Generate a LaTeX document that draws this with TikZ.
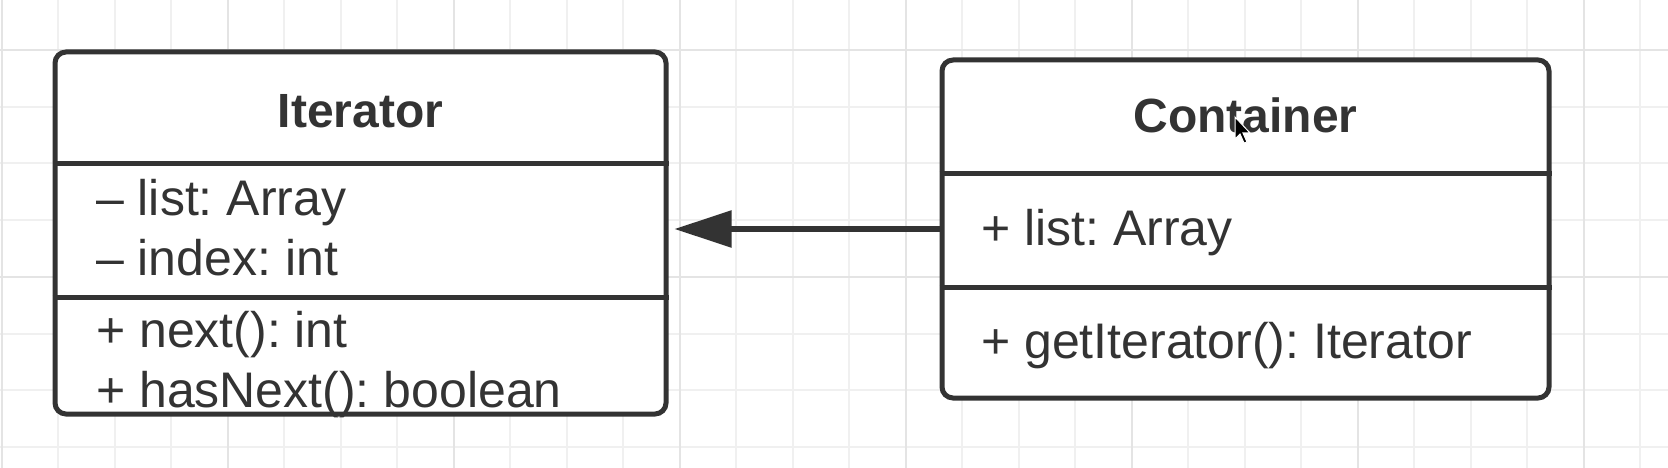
\documentclass[tikz,border=0pt]{standalone}
\usepackage{fontspec}
\setmainfont{Liberation Sans}
\usetikzlibrary{arrows.meta}
\definecolor{ink}{HTML}{333333}
\definecolor{gridlight}{HTML}{F0F0F0}
\definecolor{gridheavy}{HTML}{E4E4E4}
\frenchspacing
\begin{document}
\frenchspacing
\begin{tikzpicture}[x=1pt,y=-1pt,
  classbox/.style={draw=ink, line width=5pt, rounded corners=11pt, fill=white, inner sep=0pt},
  sepline/.style={draw=ink, line width=5pt},
  memberlabel/.style={anchor=base west, inner sep=0pt, text=ink, font=\fontsize{50}{60}\selectfont},
  classtitle/.style={anchor=base, inner sep=0pt, text=ink, font=\fontsize{48}{58}\selectfont\bfseries},
  minorgrid/.style={draw=gridlight, line width=2pt},
  majorgrid/.style={draw=gridheavy, line width=2pt},
  assoc/.style={draw=ink, line width=5.5pt, -{Triangle[length=57pt,width=36pt]}, shorten >=6pt}]
\useasboundingbox[fill=white] (0,0) rectangle (1668,468);
% background grid
\foreach \k in {0,...,29} {
  \draw[minorgrid] ({1.5+56.5*\k},0) -- ({1.5+56.5*\k},468);
}
\foreach \j in {0,...,7} {
  \draw[minorgrid] (0,{50+56.7*\j}) -- (1668,{50+56.7*\j});
}
\foreach \k in {0,4,...,28} {
  \draw[majorgrid] ({1.5+56.5*\k},0) -- ({1.5+56.5*\k},468);
}
\foreach \j in {0,4} {
  \draw[majorgrid] (0,{50+56.7*\j}) -- (1668,{50+56.7*\j});
}
% Iterator class
\node[classbox, minimum width=611pt, minimum height=362pt] (iter) at (360.5,233) {};
\draw[sepline] (iter.west |- 0,164) -- (iter.east |- 0,164);
\draw[sepline] (iter.west |- 0,297) -- (iter.east |- 0,297);
\node[classtitle] (iterT) at (360.5,128) {Iterator};
\node[memberlabel] (iterA1) at (96,215) {– list: Array};
\node[memberlabel] (iterA2) at (96,275) {– index: int};
\node[memberlabel] (iterM1) at (96,347) {+ next(): int};
\node[memberlabel] (iterM2) at (96,407) {+ hasNext(): boolean};
% Container class
\node[classbox, minimum width=607pt, minimum height=338pt] (cont) at (1245.5,229) {};
\draw[sepline] (cont.west |- 0,173) -- (cont.east |- 0,173);
\draw[sepline] (cont.west |- 0,287) -- (cont.east |- 0,287);
\node[classtitle] (contT) at (1245.5,132) {Container};
\node[memberlabel] (contA1) at (981,245) {+ list: Array};
\node[memberlabel] (contM1) at (981,358) {+ getIterator(): Iterator};
% association arrow
\draw[assoc] (cont.west) -- (cont.west -| iter.east);
% mouse pointer
\begin{scope}[shift={(1235,117)}]
  \filldraw[fill=black, draw=white, line width=1pt] (0,0) -- (0,22) -- (5,17) -- (9,26) -- (12,25) -- (8,16) -- (15,16) -- cycle;
\end{scope}
\end{tikzpicture}
\end{document}
